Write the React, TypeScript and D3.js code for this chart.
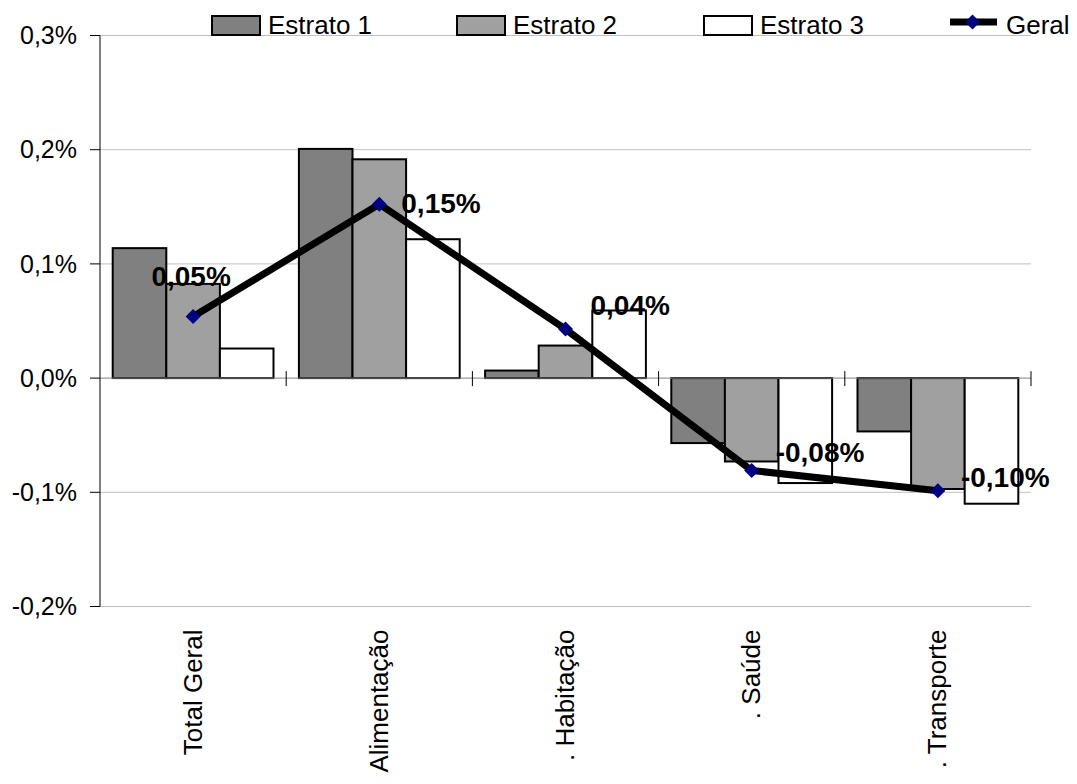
import React from "react";
import * as d3 from "d3";

const categories = ["Total Geral", "Alimentação", ". Habitação", ". Saúde", ". Transporte"];
const estrato1 = [0.1138, 0.2007, 0.0066, -0.0569, -0.0467];
const estrato2 = [0.0825, 0.1916, 0.0285, -0.073, -0.0971];
const estrato3 = [0.0259, 0.1216, 0.0592, -0.0919, -0.11];
const geral = [0.0539, 0.1523, 0.0429, -0.0809, -0.0986];
const geralLabels = ["0,05%", "0,15%", "0,04%", "-0,08%", "-0,10%"];
const yTicks = [-0.2, -0.1, 0, 0.1, 0.2, 0.3];
const yTickLabels = ["-0,2%", "-0,1%", "0,0%", "0,1%", "0,2%", "0,3%"];
const seriesNames = ["Estrato 1", "Estrato 2", "Estrato 3"];
const seriesColors = ["#808080", "#A0A0A0", "#FFFFFF"];
// label offsets (style): [dx, dy, anchor]
const labelOffsets: [number, number, string][] = [
  [-2, -41, "middle"],
  [22, -1, "start"],
  [25, -24, "start"],
  [24, -19, "start"],
  [23, -14, "start"],
];

const W = 1077;
const H = 784;
const left = 100;
const right = 1031;
const top = 35.5;
const bottom = 606.5;
const FONT = "'Liberation Sans', Arial, sans-serif";

export default function App() {
  const x = d3.scaleBand<string>().domain(categories).range([left, right]).paddingInner(0).paddingOuter(0);
  const y = d3.scaleLinear().domain([-0.2, 0.3]).range([bottom, top]);
  const inner = d3
    .scaleBand<number>()
    .domain([0, 1, 2])
    .range([0, x.bandwidth()])
    .paddingInner(0)
    .paddingOuter(0.237);
  const series = [estrato1, estrato2, estrato3];
  const line = d3
    .line<number>()
    .x((_, i) => (x(categories[i]) as number) + x.bandwidth() / 2)
    .y((d) => y(d));
  const y0 = y(0);

  return (
    <svg
      width={W}
      height={H}
      style={{ position: "absolute", left: 0, top: 0, background: "#fff" }}
      fontFamily={FONT}
    >
      {/* gridlines */}
      {yTicks.map((t) =>
        t === 0 ? null : (
          <line key={t} x1={left} x2={right} y1={y(t)} y2={y(t)} stroke="#c0c0c0" strokeWidth={1} />
        )
      )}
      {/* bars */}
      {series.map((vals, s) =>
        vals.map((v, i) => {
          const bx = (x(categories[i]) as number) + (inner(s) as number);
          const yv = y(v);
          return (
            <rect
              key={`${s}-${i}`}
              x={bx}
              y={Math.min(yv, y0)}
              width={inner.bandwidth()}
              height={Math.abs(yv - y0)}
              fill={seriesColors[s]}
              stroke="#000"
              strokeWidth={2}
            />
          );
        })
      )}
      {/* zero axis */}
      <line x1={left} x2={right} y1={y0} y2={y0} stroke="#808080" strokeWidth={1} />
      {categories.map((c) => (
        <line
          key={c}
          x1={(x(c) as number) + x.bandwidth()}
          x2={(x(c) as number) + x.bandwidth()}
          y1={y0 - 7}
          y2={y0 + 8}
          stroke="#000"
          strokeWidth={1}
        />
      ))}
      {/* y axis */}
      <line x1={left} x2={left} y1={top} y2={bottom} stroke="#000" strokeWidth={1} />
      {yTicks.map((t, i) => (
        <g key={t}>
          <line x1={left - 10} x2={left} y1={y(t)} y2={y(t)} stroke="#000" strokeWidth={1} />
          <text x={left - 23} y={y(t)} dy="0.35em" textAnchor="end" fontSize={25} fill="#000">
            {yTickLabels[i]}
          </text>
        </g>
      ))}
      {/* line */}
      <path d={line(geral) as string} fill="none" stroke="#000" strokeWidth={7} strokeLinejoin="round" />
      {geral.map((v, i) => {
        const cx = (x(categories[i]) as number) + x.bandwidth() / 2;
        const cy = y(v);
        return (
          <path
            key={i}
            d={`M${cx},${cy - 7.5}L${cx + 7.5},${cy}L${cx},${cy + 7.5}L${cx - 7.5},${cy}Z`}
            fill="#000080"
          />
        );
      })}
      {geral.map((v, i) => {
        const cx = (x(categories[i]) as number) + x.bandwidth() / 2;
        const [dx, dy, anchor] = labelOffsets[i];
        return (
          <text
            key={`l${i}`}
            x={cx + dx}
            y={y(v) + dy}
            dy="0.36em"
            textAnchor={anchor}
            fontSize={28}
            fontWeight="bold"
            fill="#000"
          >
            {geralLabels[i]}
          </text>
        );
      })}
      {/* x labels */}
      {categories.map((c) => {
        const cx = (x(c) as number) + x.bandwidth() / 2;
        return (
          <text
            key={`x${c}`}
            transform={`translate(${cx + 8.5},${bottom + 23}) rotate(-90)`}
            textAnchor="end"
            fontSize={26}
            fill="#000"
          >
            {c}
          </text>
        );
      })}
      {/* legend */}
      {seriesNames.map((n, i) => {
        const lx = [212, 457, 704][i];
        return (
          <g key={n}>
            <rect x={lx} y={16} width={48} height={19} fill={seriesColors[i]} stroke="#000" strokeWidth={2} />
            <text x={lx + 56} y={33.5} fontSize={26} fill="#000">
              {n}
            </text>
          </g>
        );
      })}
      <line x1={950} x2={997} y1={22} y2={22} stroke="#000" strokeWidth={7} />
      <path d="M972.5,14.5L980,22L972.5,29.5L965,22Z" fill="#000080" />
      <text x={1006} y={33.5} fontSize={26} fill="#000">
        Geral
      </text>
    </svg>
  );
}
